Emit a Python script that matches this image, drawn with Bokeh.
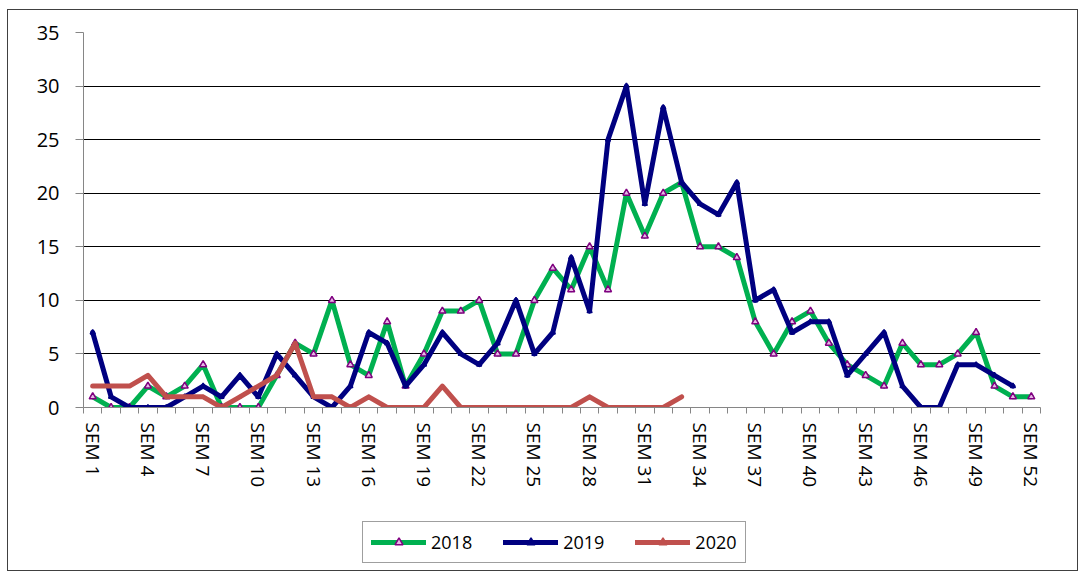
from bokeh.plotting import figure
from bokeh.layouts import column
from bokeh.models import FixedTicker, Legend, LegendItem, Range1d
from bokeh.embed import file_html
from bokeh.resources import INLINE

weeks = list(range(1, 53))
tick_weeks = list(range(1, 53, 3))
tick_labels = {w: f"SEM {w}" for w in tick_weeks}

v2018 = [1, 0, 0, 2, 1, 2, 4, 0, 0, 0, 3, 6, 5, 10, 4, 3, 8, 2, 5, 9, 9, 10, 5, 5, 10, 13,
         11, 15, 11, 20, 16, 20, 21, 15, 15, 14, 8, 5, 8, 9, 6, 4, 3, 2, 6, 4, 4, 5, 7, 2, 1, 1]
v2019 = [7, 1, 0, 0, 0, 1, 2, 1, 3, 1, 5, 3, 1, 0, 2, 7, 6, 2, 4, 7, 5, 4, 6, 10, 5, 7,
         14, 9, 25, 30, 19, 28, 21, 19, 18, 21, 10, 11, 7, 8, 8, 3, 5, 7, 2, 0, 0, 4, 4, 3, 2]
v2020 = [2, 2, 2, 3, 1, 1, 1, 0, 1, 2, 3, 6, 1, 1, 0, 1, 0, 0, 0, 2, 0, 0, 0, 0, 0, 0,
         0, 1, 0, 0, 0, 0, 1]

FONT = "Open Sans"

p = figure(width=1069, height=490, output_backend="svg", toolbar_location=None,
           x_range=Range1d(0.5, 52.5), y_range=Range1d(0, 35),
           min_border_left=75, min_border_right=37, min_border_top=22, min_border_bottom=93)
p.outline_line_color = None
p.background_fill_color = "white"
p.border_fill_color = "white"

# axes
p.xgrid.grid_line_color = None
p.ygrid.grid_line_color = "#000000"
p.ygrid.grid_line_width = 1
p.yaxis.ticker = FixedTicker(ticks=[0, 5, 10, 15, 20, 25, 30, 35])
p.yaxis.axis_line_color = "#868686"
p.yaxis.major_tick_line_color = "#868686"
p.yaxis.major_tick_out = 8
p.yaxis.major_tick_in = 0
p.yaxis.minor_tick_line_color = None
p.yaxis.major_label_text_font = FONT
p.yaxis.major_label_text_font_size = "20px"
p.yaxis.major_label_text_color = "#000000"
p.yaxis.major_label_standoff = 16

boundaries = [w - 0.5 for w in weeks] + [52.5]
p.xaxis.ticker = FixedTicker(ticks=tick_weeks, minor_ticks=boundaries)
p.xaxis.major_label_overrides = tick_labels
p.xaxis.major_label_orientation = -1.5708
p.xaxis.axis_line_color = "#868686"
p.xaxis.major_tick_line_color = None
p.xaxis.major_tick_out = 6
p.xaxis.major_tick_in = 0
p.xaxis.minor_tick_line_color = "#868686"
p.xaxis.minor_tick_out = 6
p.xaxis.minor_tick_in = 0
p.xaxis.major_label_text_font = FONT
p.xaxis.major_label_text_font_size = "19px"
p.xaxis.major_label_text_color = "#000000"
p.xaxis.major_label_standoff = 9

series = [
    ("2018", v2018, "#00B050", "#800080", "#E6B8E6", 7),
    ("2019", v2019, "#000080", "#000080", "#000080", 5),
    ("2020", v2020, "#C0504D", "#C0504D", "#C0504D", 3),
]

# legend lives in a small figure below the chart (its ranges keep the data out of view)
q = figure(width=1069, height=70, output_backend="svg", toolbar_location=None,
           x_range=Range1d(-100, -99), y_range=Range1d(-100, -99),
           x_axis_location=None, y_axis_location=None, min_border=0)
q.outline_line_color = None
q.xgrid.grid_line_color = None
q.ygrid.grid_line_color = None
q.border_fill_color = "white"

items = []
for label, vals, col, mcol, mfill, msize in series:
    xs = weeks[:len(vals)]
    p.line(xs, vals, line_color=col, line_width=5, line_join="round", line_cap="round")
    p.scatter(xs, vals, marker="triangle", size=msize, line_color=mcol, fill_color=mfill, line_width=1.5)
    l1 = q.line(xs, vals, line_color=col, line_width=5, line_cap="round")
    l2 = q.scatter(xs, vals, marker="triangle", size=msize, line_color=mcol, fill_color=mfill, line_width=1.5)
    items.append(LegendItem(label=label, renderers=[l1, l2]))

legend = Legend(items=items, orientation="horizontal", location=(279, 7),
                label_text_font=FONT, label_text_font_size="18px", label_text_color="#000000",
                glyph_width=55, glyph_height=20, spacing=31, padding=8, margin=0,
                label_standoff=5, border_line_color="#404040", border_line_width=1,
                background_fill_color="white", background_fill_alpha=1.0)
q.add_layout(legend, "center")

layout = column(p, q, spacing=0,
                styles={"border": "1px solid #404040", "margin-left": "7px", "margin-top": "9px",
                        "background-color": "white"})

open("out.html", "w").write(file_html(layout, INLINE))
